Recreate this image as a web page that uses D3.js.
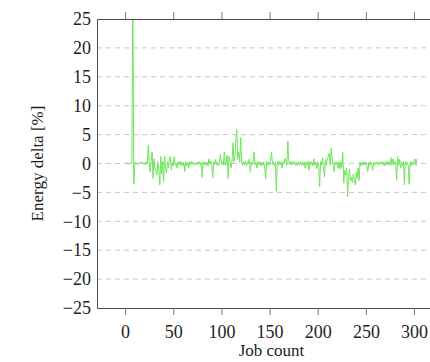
<!DOCTYPE html>
<html lang="en">
<head>
<meta charset="utf-8">
<script src="https://cdn.jsdelivr.net/npm/d3@7"></script>
<style>
body { margin: 0; background: #fff; }
svg text { font-family: "Liberation Serif", "DejaVu Serif", serif; fill: #1e1e1e; }
</style>
</head>
<body>
<div id="chart"></div>
<script>
// energy delta per job count (job count starts at 1)
var deltas = [
  0, 0.1, 0, -0.1, 0.1, 0, 0.1, 30, -3.6, -0.3, 0.2, -0.1, 0.1, -0.2, 0.1, 0.3, -0.1, 0.2, -0.1, 0.1,
  -0.2, 0.3, -0.1, 3.1, 0.3, -1.5, 0.4, 2.0, -2.6, 0.8, -0.9, -1.2, -2.0, 0.3, -1.0, -3.7, 1.2, -1.8, 0.4, -3.1,
  1.3, -0.9, -1.6, 0.3, -0.8, 0.9, 1.2, -1.1, 0.2, -0.4, 1.2, -0.3, 0.1, -0.8, 0.3, -0.2, 0.4, -0.3, 0.2, -0.4,
  0.2, -1.4, 0.3, -0.4, 0.2, -0.8, 0.3, -0.2, 0.4, -0.1, 0.2, -0.3, 0.1, -0.2, 0.3, -0.1, 0.3, -0.3, 0.2, -2.4,
  0.3, -0.2, 0.3, -0.3, 0.2, -0.4, 0.8, -0.1, 0.4, -0.3, -2.5, 0.3, -0.2, 0.7, -0.3, 0.2, -0.4, 0.3, 1.6, -0.2,
  0.3, -0.3, 2.0, -0.3, 0.4, 1.5, -2.6, 1.2, 0.3, -0.8, 0.4, 3.6, 0.3, 1.2, 4.1, 5.9, 0.7, 2.0, 0.2, 4.5,
  0.2, -0.3, 0.4, -0.2, 0.3, -0.4, 0.3, -0.1, 0.8, -1.4, 0.3, -0.2, 0.4, 2.0, -0.3, 0.2, -0.8, 0.3, -0.2, 0.3,
  -0.4, 0.2, -0.3, 0.3, -0.9, -2.7, 0.4, -0.3, 0.2, -0.3, 0.8, 2.0, -0.2, 0.3, -0.4, 0.2, -4.8, 0.3, -0.3, 0.4,
  -0.2, 0.3, -0.8, 0.3, -0.1, 0.9, 0.4, -0.3, 3.9, 0.3, -0.2, 0.4, -0.3, 0.3, -0.1, 0.3, -0.3, 0.2, -0.4, 0.3,
  -0.2, 0.3, -0.3, 0.2, -0.3, 0.3, -0.8, 0.2, -0.3, 0.4, -1.2, 0.3, -0.2, 0.3, -0.4, 0.8, -0.3, 0.2, -0.9, 0.3,
  -0.7, -4.0, 0.4, -0.3, 1.0, -0.8, -2.3, 0.7, -0.3, 0.9, 1.2, 1.8, -0.3, 2.6, 0.8, -0.4, -1.4, 0.3, -0.2, 0.3,
  -0.8, 0.3, -1.0, 0.3, -0.7, 1.9, -3.4, -1.2, -2.0, -0.8, -5.8, -2.2, -1.0, -3.0, -2.4, -3.3, -1.8, -2.9, -3.7, -1.5,
  -2.6, -0.8, -2.9, 0.3, -0.4, 0.2, -0.3, 0.3, -0.2, 0.3, -0.4, -1.4, 0.2, -0.3, 0.3, -0.2, -1.2, 0.3, -0.3, 0.2,
  -0.1, 0.3, -0.3, 0.2, -0.1, 0.3, -0.2, 0.3, -0.4, 0.2, -0.3, 0.4, -0.2, 0.3, -0.3, 1.0, -0.3, 0.8, -0.2, 0.4,
  -0.3, -2.9, 1.2, -0.3, 0.7, -0.8, 0.3, -0.4, 0.3, -3.7, 0.4, -0.3, 0.2, -0.3, -3.6, 0.3, -0.4, 0.3, -0.2, 0.3,
  0.8, -0.3, 0.8
];
var xTicks = [0, 50, 100, 150, 200, 250, 300];
var yTicks = [-25, -20, -15, -10, -5, 0, 5, 10, 15, 20, 25];
var xTitle = "Job count";
var yTitle = "Energy delta [%]";

var W = 430, H = 362;
var plotLeft = 97, plotTop = 19, plotBottom = 308, plotRight = 446;
var n = deltas.length;
var pad = (n - 1) * 0.1;   // enlarged x limits, right side runs past the crop

var x = d3.scaleLinear().domain([1 - pad, n + pad]).range([plotLeft, plotRight]);
var y = d3.scaleLinear().domain([-25, 25]).range([plotBottom, plotTop]);

var svg = d3.select("#chart").append("svg")
    .attr("width", W)
    .attr("height", H);

svg.append("defs").append("clipPath").attr("id", "clip")
  .append("rect")
    .attr("x", plotLeft).attr("y", plotTop)
    .attr("width", plotRight - plotLeft).attr("height", plotBottom - plotTop);

// dashed grid
svg.append("g")
  .selectAll("line")
  .data(yTicks.filter(function(d) { return d > -25 && d < 25; }))
  .enter().append("line")
    .attr("x1", plotLeft).attr("x2", W)
    .attr("y1", function(d) { return y(d); })
    .attr("y2", function(d) { return y(d); })
    .attr("stroke", "#c9c9c9")
    .attr("stroke-width", 1)
    .attr("stroke-dasharray", "5,4");

// data line
var line = d3.line()
    .x(function(d, i) { return x(i + 1); })
    .y(function(d) { return y(d); });

svg.append("path")
    .datum(deltas)
    .attr("clip-path", "url(#clip)")
    .attr("fill", "none")
    .attr("stroke", "#6ee65a")
    .attr("stroke-width", 1)
    .attr("d", line);

// x axis bottom
var xb = svg.append("g")
    .attr("transform", "translate(0," + plotBottom + ")")
    .call(d3.axisBottom(x).tickValues(xTicks).tickSize(7).tickSizeOuter(0).tickPadding(10));
xb.select(".domain").attr("stroke", "#4a4a4a");
xb.selectAll(".tick line").attr("stroke", "#777");
xb.selectAll("text").style("font-size", "18px").attr("fill", "#1e1e1e");

// x axis top (mirrored ticks)
var xt = svg.append("g")
    .attr("transform", "translate(0," + plotTop + ")")
    .call(d3.axisTop(x).tickValues(xTicks).tickSize(7).tickSizeOuter(0).tickFormat(""));
xt.select(".domain").attr("stroke", "#4a4a4a");
xt.selectAll(".tick line").attr("stroke", "#777");

// y axis
var ya = svg.append("g")
    .attr("transform", "translate(" + plotLeft + ",0)")
    .call(d3.axisLeft(y).tickValues(yTicks).tickSize(0).tickSizeOuter(0).tickPadding(6));
ya.select(".domain").attr("stroke", "#4a4a4a");
ya.selectAll("text").style("font-size", "18px").attr("fill", "#1e1e1e");

// axis titles
svg.append("text")
    .attr("x", (plotLeft + plotRight) / 2)
    .attr("y", 356)
    .attr("text-anchor", "middle")
    .style("font-size", "17px")
    .text(xTitle);

svg.append("text")
    .attr("transform", "translate(43," + ((plotTop + plotBottom) / 2) + ") rotate(-90)")
    .attr("text-anchor", "middle")
    .style("font-size", "17px")
    .text(yTitle);
</script>
</body>
</html>
